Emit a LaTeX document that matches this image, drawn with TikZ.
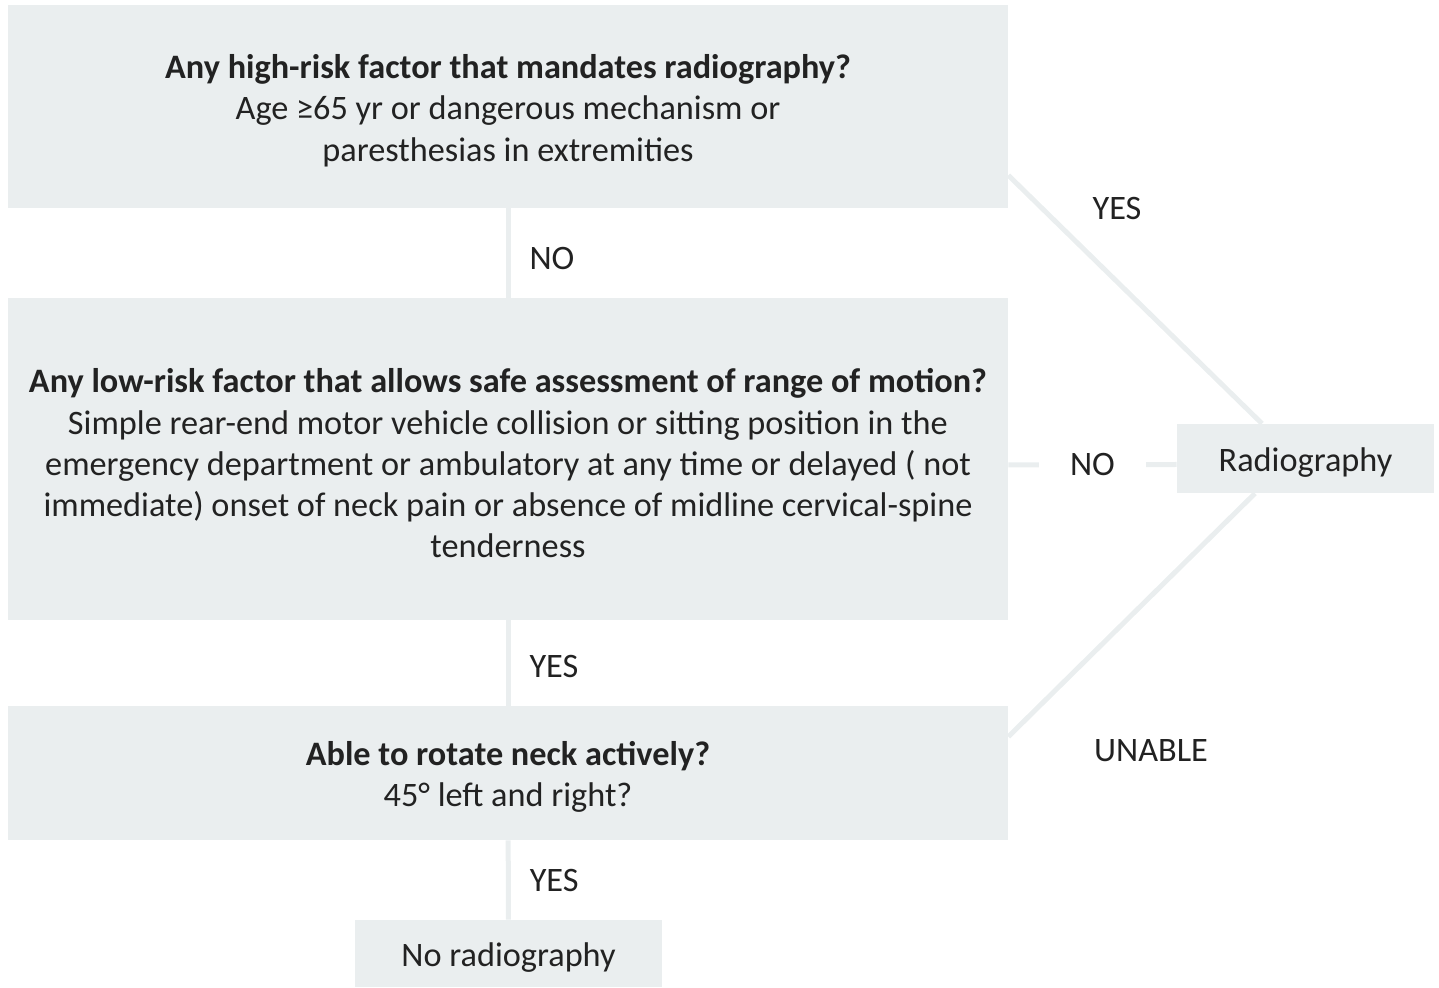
\documentclass[tikz,border=0pt]{standalone}
\usepackage{fontspec}
\setmainfont{Carlito}
\usepackage{tikz}
\definecolor{Box}{HTML}{EAEEEF}
\definecolor{Ink}{HTML}{222222}
\newcommand\lift{\rule{0pt}{18.5pt}}

\begin{document}
\begin{tikzpicture}[every node/.style={text=Ink,font=\fontsize{19.5}{23.4}\selectfont},
  box/.style={fill=Box,inner sep=0,align=center},
  link/.style={draw=Box,line width=0.1cm},
  tag/.style={inner sep=0}]
\useasboundingbox (0,0) rectangle (28.78,19.74);
% Questions
\node [box,minimum width=20cm,minimum height=4.06cm] (high) at (10.16,17.61) {\lift\textbf{Any high-risk factor that mandates radiography?}\\Age ≥65 yr or dangerous mechanism or\\paresthesias in extremities};
\node [box,minimum width=20cm,minimum height=6.44cm] (low) at (10.16,10.56) {\lift\textbf{Any low-risk factor that allows safe assessment of range of motion?}\\Simple rear-end motor vehicle collision or sitting position in the\\emergency department or ambulatory at any time or delayed ( not\\immediate) onset of neck pain or absence of midline cervical-spine\\tenderness};
\node [box,minimum width=20cm,minimum height=2.68cm] (neck) at (10.16,4.28) {\lift\textbf{Able to rotate neck actively?}\\45° left and right?};
% Outcomes
\node [box,minimum width=6.14cm,minimum height=1.34cm] (noxray) at (10.17,0.67) {\lift No radiography};
\node [box,minimum width=5.14cm,minimum height=1.38cm] (xray) at (26.11,10.57) {\lift Radiography};
% Down the chain
\draw [link] (high) -- (low) node [midway,right=0.38cm,yshift=-0.11cm,tag] {NO};
\draw [link] (low) -- (neck) node [midway,right=0.38cm,yshift=-0.07cm,tag] {YES};
\draw [link] (neck) -- (noxray) node [midway,right=0.38cm,tag] {YES};
% Into radiography
\draw [link] ([yshift=-0.12cm]low.east) -- ([yshift=-0.12cm]xray.west) node [midway,fill=white,inner xsep=0.62cm,inner ysep=0.1cm] {NO};
\draw [link] ([yshift=0.66cm]high.south east) -- ([xshift=-0.87cm]xray.north);
\draw [link] ([yshift=-0.62cm]neck.north east) -- ([xshift=-1.01cm]xray.south);
\node [tag] (yes) at (22.34,15.56) {YES};
\node [tag] (unable) at (23.02,4.72) {UNABLE};
\end{tikzpicture}
\end{document}
